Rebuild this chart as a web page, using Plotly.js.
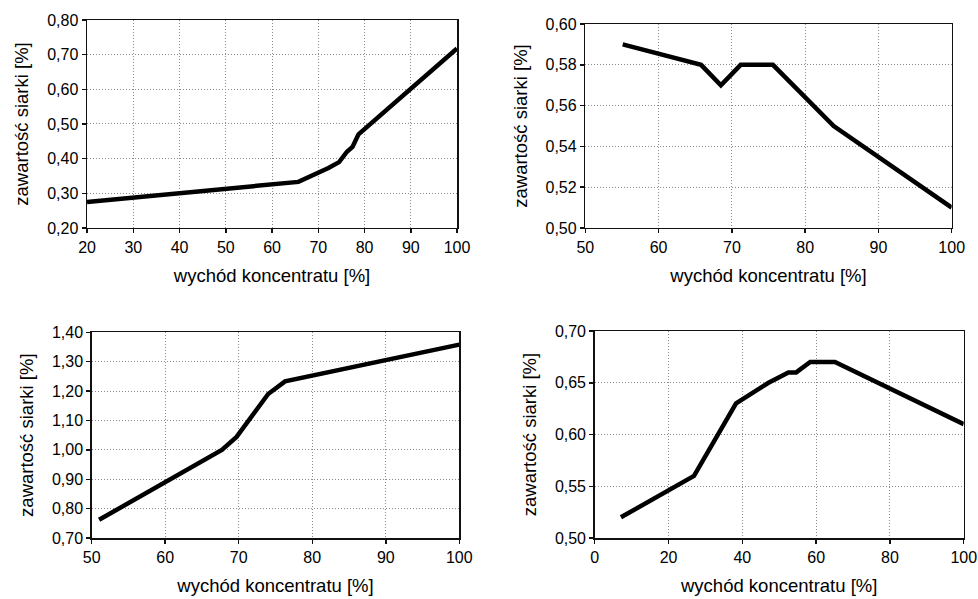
<!DOCTYPE html>
<html>
<head>
<meta charset="utf-8">
<script src="https://cdn.plot.ly/plotly-3.0.1.min.js"></script>
<style>html,body{margin:0;padding:0;background:#fff;}#chart{width:978px;height:599px;}</style>
</head>
<body>
<div id="chart"></div>
<script>
// Data
const x1 = [20, 65.7, 72.2, 74.5, 76.2, 77.4, 78.7, 100];
const y1 = [0.275, 0.333, 0.373, 0.39, 0.42, 0.434, 0.47, 0.718];

const x2 = [55.1, 65.8, 68.5, 71.2, 75.6, 83.9, 100];
const y2 = [0.59, 0.58, 0.57, 0.58, 0.58, 0.55, 0.51];

const x3 = [51.0, 67.7, 69.7, 74.0, 76.3, 100];
const y3 = [0.762, 1.00, 1.044, 1.19, 1.233, 1.358];

const x4 = [7.1, 26.9, 38.3, 47.1, 52.5, 54.6, 58.4, 65.1, 100];
const y4 = [0.52, 0.56, 0.63, 0.65, 0.66, 0.66, 0.67, 0.67, 0.61];

const xTitle = 'wychód koncentratu [%]';
const yTitle = 'zawartość siarki [%]';

const fam = '"Liberation Sans", Arial, sans-serif';
const tickFont = {family: fam, size: 16, color: '#000'};
const titleFont = {family: fam, size: 18.5, color: '#000'};

function trace(x, y, n) {
  return {x: x, y: y, xaxis: 'x' + (n === 1 ? '' : n), yaxis: 'y' + (n === 1 ? '' : n),
    type: 'scatter', mode: 'lines', line: {color: '#000', width: 4.5}, hoverinfo: 'none'};
}

const common = {
  showgrid: true, gridcolor: '#8a8a8a', griddash: '1px,2px', gridwidth: 1,
  showline: true, linecolor: '#111', linewidth: 1.5, mirror: true,
  ticks: 'outside', ticklen: 4, tickcolor: '#111', tickwidth: 1.5,
  zeroline: false, tickfont: tickFont
};

function xax(domain, range, dtick, anchor) {
  return Object.assign({}, common, {domain: domain, range: range, dtick: dtick, tick0: 0, anchor: anchor,
    title: {text: xTitle, font: titleFont, standoff: 14}});
}
function yax(domain, range, dtick, anchor) {
  return Object.assign({}, common, {domain: domain, range: range, dtick: dtick, tick0: 0, anchor: anchor,
    tickformat: '.2f', title: {text: yTitle, font: titleFont, standoff: 13}});
}

const layout = {
  width: 978, height: 599,
  margin: {l: 0, r: 0, t: 0, b: 0},
  paper_bgcolor: '#fff', plot_bgcolor: '#fff',
  separators: ', ',
  showlegend: false,
  font: tickFont,
  xaxis: xax([0.0890, 0.4673], [20, 100], 10, 'y'),
  yaxis: yax([0.6194, 0.9666], [0.2, 0.8], 0.1, 'x'),
  xaxis2: xax([0.5985, 0.9731], [50, 100], 10, 'y2'),
  yaxis2: yax([0.6194, 0.9599], [0.5, 0.6], 0.02, 'x2'),
  xaxis3: xax([0.0938, 0.4696], [50, 100], 10, 'y3'),
  yaxis3: yax([0.1018, 0.4452], [0.7, 1.4], 0.1, 'x3'),
  xaxis4: xax([0.6081, 0.9854], [0, 100], 20, 'y4'),
  yaxis4: yax([0.1018, 0.4474], [0.5, 0.7], 0.05, 'x4')
};

Plotly.newPlot('chart', [trace(x1, y1, 1), trace(x2, y2, 2), trace(x3, y3, 3), trace(x4, y4, 4)], layout, {staticPlot: true});
</script>
</body>
</html>
